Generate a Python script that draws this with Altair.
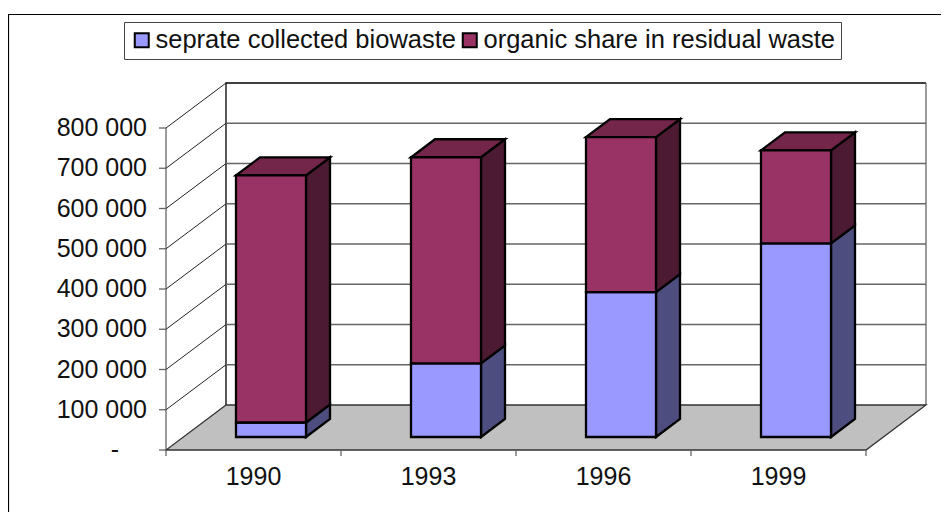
import altair as alt
import pandas as pd

years = ["1990", "1993", "1996", "1999"]
biowaste = [36000, 183000, 360000, 481000]
totals = [650000, 695000, 745000, 712000]
series = ["seprate collected biowaste", "organic share in residual waste"]
colors = ["#9999FF", "#993366"]
side_colors = ["#4D4D80", "#4D1A33"]
top_color = "#732649"
ticks_y = [0, 100000, 200000, 300000, 400000, 500000, 600000, 700000, 800000]
tick_labels = ["-", "100 000", "200 000", "300 000", "400 000",
               "500 000", "600 000", "700 000", "800 000"]

# oblique projection, in axis units
UNITS_PER_PX = 800000 / 322
CAT_PX = 175
WALL_DX = 60 / CAT_PX
WALL_DY = 45 * UNITS_PER_PX
GAP = 0.3
BAR_W = 0.4
BAR_DX = 24 / CAT_PX
BAR_DY = 18 * UNITS_PER_PX
OFF_DX = 17.5 / CAT_PX
OFF_DY = 13 * UNITS_PER_PX
X_MAX = 4 + WALL_DX
Y_MAX = 367 * UNITS_PER_PX

xs = alt.Scale(domain=[0, X_MAX], nice=False, zero=False)
ys = alt.Scale(domain=[0, Y_MAX], nice=False, zero=False)


def X(f="x"):
    return alt.X(f"{f}:Q", scale=xs, title=None, axis=None)


def Y(f="y"):
    return alt.Y(f"{f}:Q", scale=ys, title=None, axis=None)


fronts, sides, tops = [], [], []
for i, yr in enumerate(years):
    xl = i + GAP + OFF_DX
    xr = xl + BAR_W
    bands = [(0, biowaste[i]), (biowaste[i], totals[i])]
    for s, (a, b) in enumerate(bands):
        fronts.append(dict(x=xl, x2=xr, y=a + OFF_DY, y2=b + OFF_DY, series=series[s]))
        sides.append(dict(f=f"{i}-{s}", x=xr, y=a + OFF_DY, y2=b + OFF_DY, c=side_colors[s]))
        sides.append(dict(f=f"{i}-{s}", x=xr + BAR_DX, y=a + OFF_DY + BAR_DY, y2=b + OFF_DY + BAR_DY, c=side_colors[s]))
    top = totals[i] + OFF_DY
    tops.append(dict(f=str(i), y=top, x=xl, x2=xr))
    tops.append(dict(f=str(i), y=top + BAR_DY, x=xl + BAR_DX, x2=xr + BAR_DX))

GRID = "#666666"
FONT = "Liberation Sans"
INK = "#111111"

# back wall gridlines and walls
grid_rows = [dict(k=v, x=WALL_DX, y=v + WALL_DY) for v in ticks_y[1:-1]] + \
            [dict(k=v, x=X_MAX, y=v + WALL_DY) for v in ticks_y[1:-1]]
grid = alt.Chart(pd.DataFrame(grid_rows)).mark_line(color=GRID, strokeWidth=1.3).encode(
    x=X(), y=Y(), detail="k:N")

diag_rows = []
for v in ticks_y[1:]:
    diag_rows.append(dict(k=v, x=0, y=v))
    diag_rows.append(dict(k=v, x=WALL_DX, y=v + WALL_DY))
diag = alt.Chart(pd.DataFrame(diag_rows)).mark_line(color="#222222", strokeWidth=1).encode(
    x=X(), y=Y(), detail="k:N")

wall_rows = [dict(x=0, y=0), dict(x=0, y=ticks_y[-1])]
left_v = alt.Chart(pd.DataFrame(wall_rows)).mark_line(color=GRID, strokeWidth=1.3, orient="vertical").encode(
    x=X(), y=Y())

back_rows = [dict(o=0, x=WALL_DX, y=WALL_DY), dict(o=1, x=WALL_DX, y=ticks_y[-1] + WALL_DY),
             dict(o=2, x=X_MAX, y=ticks_y[-1] + WALL_DY)]
back = alt.Chart(pd.DataFrame(back_rows)).mark_line(color="black", strokeWidth=1.3).encode(
    x=X(), y=Y(), order="o:Q")
right_rows = [dict(x=X_MAX, y=WALL_DY), dict(x=X_MAX, y=ticks_y[-1] + WALL_DY)]
right = alt.Chart(pd.DataFrame(right_rows)).mark_line(color=GRID, strokeWidth=1.3, orient="vertical").encode(
    x=X(), y=Y())

floor_df = pd.DataFrame([dict(y=0, x=0, x2=4), dict(y=WALL_DY, x=WALL_DX, x2=X_MAX)])
floor = alt.Chart(floor_df).mark_area(orient="horizontal", fill="#C0C0C0", stroke="#333333", strokeWidth=1.3).encode(
    y=Y(), x=X(), x2="x2:Q")

# axis ticks and labels
ydf = pd.DataFrame(dict(y=ticks_y, t=tick_labels))
xdf_ticks = pd.DataFrame(dict(x=range(len(years) + 1)))
xdf_labels = pd.DataFrame(dict(x=[i + 0.5 for i in range(len(years))], t=years))

ytick = alt.Chart(ydf).mark_rule(color=GRID, strokeWidth=1.3).encode(
    y=Y(), x=alt.value(-7), x2=alt.value(0))
ylab = alt.Chart(ydf[ydf.y > 0]).mark_text(align="right", baseline="middle", fontSize=25, font=FONT, color=INK).encode(
    y=Y(), x=alt.value(-19), text="t:N")
ylab0 = alt.Chart(ydf[ydf.y == 0]).mark_text(align="right", baseline="middle", fontSize=25, font=FONT, color=INK).encode(
    y=Y(), x=alt.value(-47), text="t:N")
xtick = alt.Chart(xdf_ticks).mark_rule(color=GRID, strokeWidth=1.3).encode(
    x=X(), y=alt.value(367), y2=alt.value(373))
xlab = alt.Chart(xdf_labels).mark_text(align="center", baseline="middle", fontSize=25, font=FONT, color=INK).encode(
    x=X(), y=alt.value(394), text="t:N")

# bars
BW = 2.3
side = alt.Chart(pd.DataFrame(sides)).mark_area(stroke="black", strokeWidth=BW).encode(
    x=X(), y=Y(), y2="y2:Q", detail="f:N", fill=alt.Fill("c:N", scale=None))
top = alt.Chart(pd.DataFrame(tops)).mark_area(orient="horizontal", fill=top_color, stroke="black", strokeWidth=BW).encode(
    y=Y(), x=X(), x2="x2:Q", detail="f:N")
front = alt.Chart(pd.DataFrame(fronts)).mark_rect(stroke="black", strokeWidth=BW).encode(
    x=X(), x2="x2:Q", y=Y(), y2="y2:Q",
    color=alt.Color("series:N", scale=alt.Scale(domain=series, range=colors), title=None,
                    legend=alt.Legend(orient="none", legendX=-42, legendY=-61, direction="horizontal", columns=2,
                                      labelFontSize=25.5, labelFont=FONT, labelColor=INK, labelLimit=500,
                                      symbolType="square", symbolSize=196, symbolStrokeColor="black", symbolStrokeWidth=2,
                                      symbolOpacity=1, columnPadding=0, padding=5, labelOffset=1,
                                      strokeColor="#444444", fillColor="white")),
)

# outer frame of the chart object
frame = alt.Chart(pd.DataFrame([dict(a=1)])).mark_rect(filled=False, stroke="black", strokeWidth=1.2, clip=False).encode(
    x=alt.value(-157.5), x2=alt.value(900), y=alt.value(-68.5), y2=alt.value(600))

chart = alt.layer(
    frame, back, right, grid, left_v, diag, floor, ytick, ylab, ylab0, xtick, xlab, side, top, front
).properties(
    width=760, height=367, autosize="none",
    padding={"left": 158, "top": 75, "right": 15, "bottom": 62},
).configure_view(stroke=None)

chart.save("out.html", embed_options={"renderer": "svg", "actions": False})
